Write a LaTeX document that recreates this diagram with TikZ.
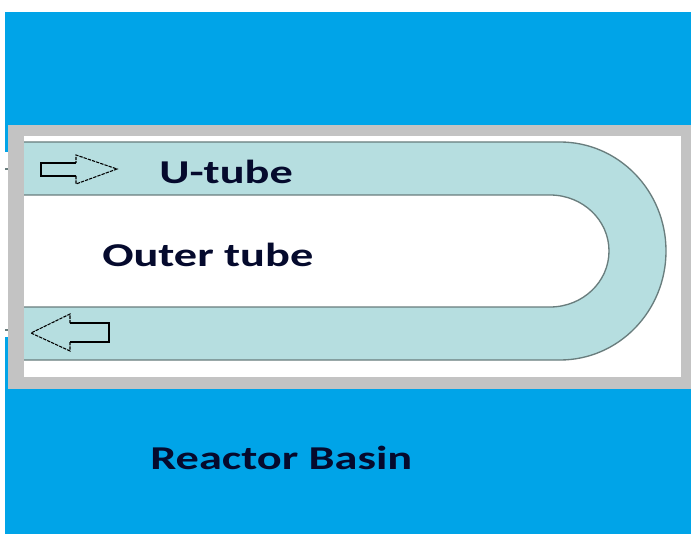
\documentclass[tikz,border=0pt]{standalone}
\usepackage{fontspec}
\setmainfont[FakeStretch=1.39]{Carlito}
\definecolor{basinblue}{RGB}{0,164,232}
\definecolor{framegray}{RGB}{195,195,195}
\definecolor{tubeteal}{RGB}{182,222,224}
\definecolor{tubeline}{RGB}{105,125,125}
\definecolor{labelnavy}{RGB}{5,10,45}
\tikzset{
    tubelabel/.style={text=labelnavy,font=\bfseries\fontsize{25}{25}\selectfont,inner sep=0pt,anchor=base west},
    arrowline/.style={black,line width=0.9pt},
    arrowhead/.style={black,line width=0.8pt,dash pattern=on 2.5pt off 0.8pt}
}
\begin{document}
\begin{tikzpicture}[x=0.75pt,y=-0.75pt]
    % --- Bounding box ---
    \useasboundingbox (0,0) rectangle (691,534);

    % --- Coordinates ---
    \coordinate (BasinTL) at (5,12);     % Basin top left
    \coordinate (BasinBR) at (691,534);  % Basin bottom right
    \coordinate (FrameTL) at (8,125);    % Frame outer corner
    \coordinate (FrameBR) at (691,389);  % Frame outer corner
    \coordinate (WhiteTL) at (24,136);   % Inside of frame
    \coordinate (WhiteBR) at (681,377);  % Inside of frame

    % --- Basin and frame ---
    \fill[basinblue] (BasinTL) rectangle (BasinBR);
    \fill[white] (0,152) rectangle (8,337); % Gap left of the frame
    \fill[framegray] (FrameTL) rectangle (FrameBR);
    \fill[white] (WhiteTL) rectangle (WhiteBR);

    % --- U-tube (the y axis points down, so the arcs run from -90 to 90) ---
    \fill[tubeteal] (24,142) -- (560,142)
        arc[start angle=-90,end angle=90,x radius=106,y radius=109]
        -- (24,360) -- (24,307) -- (550,307)
        arc[start angle=90,end angle=-90,x radius=59,y radius=56]
        -- (24,195) -- cycle;
    \draw[tubeline,line width=1pt] (24,142) -- (560,142)
        arc[start angle=-90,end angle=90,x radius=106,y radius=109] -- (24,360);
    \draw[tubeline,line width=1pt] (24,195) -- (550,195)
        arc[start angle=-90,end angle=90,x radius=59,y radius=56] -- (24,307);

    % --- Small ticks left of the frame ---
    \draw[tubeline,line width=0.8pt] (5,169) -- (8,169);
    \draw[tubeline,line width=0.8pt] (5,330) -- (8,330);

    % --- Flow arrows ---
    \draw[arrowline] (76,163) -- (41,163) -- (41,176) -- (76,176);
    \draw[arrowhead] (76,176) -- (76,184) -- (117,169) -- (76,155) -- (76,163);
    \draw[arrowline] (70,323) -- (109,323) -- (109,342) -- (70,342);
    \draw[arrowhead] (70,342) -- (70,351) -- (31,333) -- (70,314) -- (70,323);

    % --- Labels ---
    \node[tubelabel] (utube) at (159,183.5) {U-tube};
    \node[tubelabel] (outer) at (102,266.5) {Outer tube};
    \node[tubelabel] (basin) at (150,469.5) {Reactor Basin};
\end{tikzpicture}
\end{document}
